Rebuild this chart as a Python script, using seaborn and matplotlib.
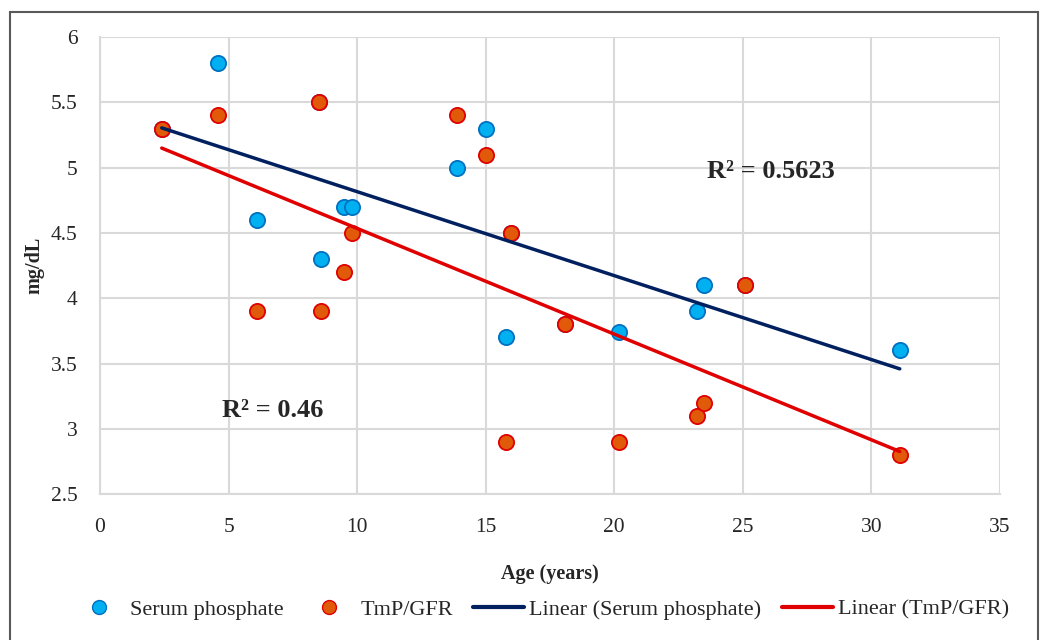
import matplotlib
matplotlib.use('Agg')
import matplotlib.pyplot as plt
from matplotlib.lines import Line2D
from matplotlib.patches import Rectangle
import seaborn as sns
import pandas as pd

# Data
age = [2.4, 4.6, 6.1, 8.5, 8.6, 9.5, 9.8, 13.9, 15.0, 15.8, 16.0, 18.1, 20.2, 23.2, 23.5, 25.1, 31.1]
serum_phosphate = [5.3, 5.8, 4.6, 5.5, 4.3, 4.7, 4.7, 5.0, 5.3, 3.7, 4.5, 3.8, 3.74, 3.9, 4.1, 4.1, 3.6]
tmp_gfr = [5.3, 5.4, 3.9, 5.5, 3.9, 4.2, 4.5, 5.4, 5.1, 2.9, 4.5, 3.8, 2.9, 3.1, 3.2, 4.1, 2.8]
x_ticks = [0, 5, 10, 15, 20, 25, 30, 35]
y_ticks = [2.5, 3, 3.5, 4, 4.5, 5, 5.5, 6]

df = pd.DataFrame({'age': age, 'serum': serum_phosphate, 'tmp': tmp_gfr})

sns.set_theme(style='whitegrid')
plt.rcParams['font.family'] = ['Liberation Serif', 'DejaVu Serif']

BLUE_FILL, BLUE_EDGE = '#00B0F0', '#0070C0'
RED_FILL, RED_EDGE = '#E05A0A', '#E00000'
NAVY, RED_LINE = '#002060', '#E00000'

fig = plt.figure(figsize=(10.43, 6.4), dpi=100)
ax = fig.add_axes([0.0959, 0.228, 0.8629, 0.714])

sns.scatterplot(data=df, x='age', y='serum', ax=ax, s=120, color=BLUE_FILL,
                edgecolor=BLUE_EDGE, linewidth=1.3, zorder=3)
sns.scatterplot(data=df, x='age', y='tmp', ax=ax, s=120, color=RED_FILL,
                edgecolor=RED_EDGE, linewidth=1.3, zorder=3)
sns.regplot(data=df, x='age', y='serum', ax=ax, scatter=False, ci=None,
            line_kws={'color': NAVY, 'linewidth': 2.5, 'zorder': 4})
sns.regplot(data=df, x='age', y='tmp', ax=ax, scatter=False, ci=None,
            line_kws={'color': RED_LINE, 'linewidth': 2.5, 'zorder': 4})

ax.set_xlim(0, 35)
ax.set_ylim(2.5, 6)
ax.set_xticks(x_ticks)
ax.set_yticks(y_ticks)
ax.set_xticklabels([str(t) for t in x_ticks])
ax.set_yticklabels(['2.5', '3', '3.5', '4', '4.5', '5', '5.5', '6'])
ax.tick_params(axis='both', length=0, labelsize=15.5, colors='#262626')
ax.tick_params(axis='y', pad=16)
ax.tick_params(axis='x', pad=17)
ax.grid(True, color='#D9D9D9', linewidth=1.5)
for side in ['top', 'right']:
    ax.spines[side].set_visible(False)
for side in ['left', 'bottom']:
    ax.spines[side].set_color('#D9D9D9')
    ax.spines[side].set_linewidth(1.5)

ax.set_xlabel('Age (years)', fontsize=14.5, fontweight='bold', labelpad=20)
ax.set_ylabel('mg/dL', fontsize=14.5, fontweight='bold', labelpad=5)

ax.text(26.1, 4.97, 'R² = 0.5623', fontsize=19, fontweight='bold', ha='center', va='center')
ax.text(6.7, 3.14, 'R² = 0.46', fontsize=19, fontweight='bold', ha='center', va='center')

handles = [
    Line2D([], [], marker='o', linestyle='', markersize=10, markerfacecolor=BLUE_FILL,
           markeredgecolor=BLUE_EDGE),
    Line2D([], [], marker='o', linestyle='', markersize=10, markerfacecolor=RED_FILL,
           markeredgecolor=RED_EDGE),
    Line2D([], [], color=NAVY, linewidth=3),
    Line2D([], [], color=RED_LINE, linewidth=3),
]
labels = ['Serum phosphate', 'TmP/GFR', 'Linear (Serum phosphate)', 'Linear (TmP/GFR)']
fig.legend(handles, labels, loc='center', bbox_to_anchor=(0.519, 0.048), ncol=4,
           frameon=False, fontsize=16, handlelength=2.3, columnspacing=0.9,
           handletextpad=0.25, borderaxespad=0)

# outer chart border
fig.patches.append(Rectangle((10 / 1043, -0.05), 1028 / 1043, 1 - 12 / 640 + 0.05,
                             transform=fig.transFigure, fill=False,
                             edgecolor='#595959', linewidth=1.5))

fig.savefig('out.png', dpi=100)
